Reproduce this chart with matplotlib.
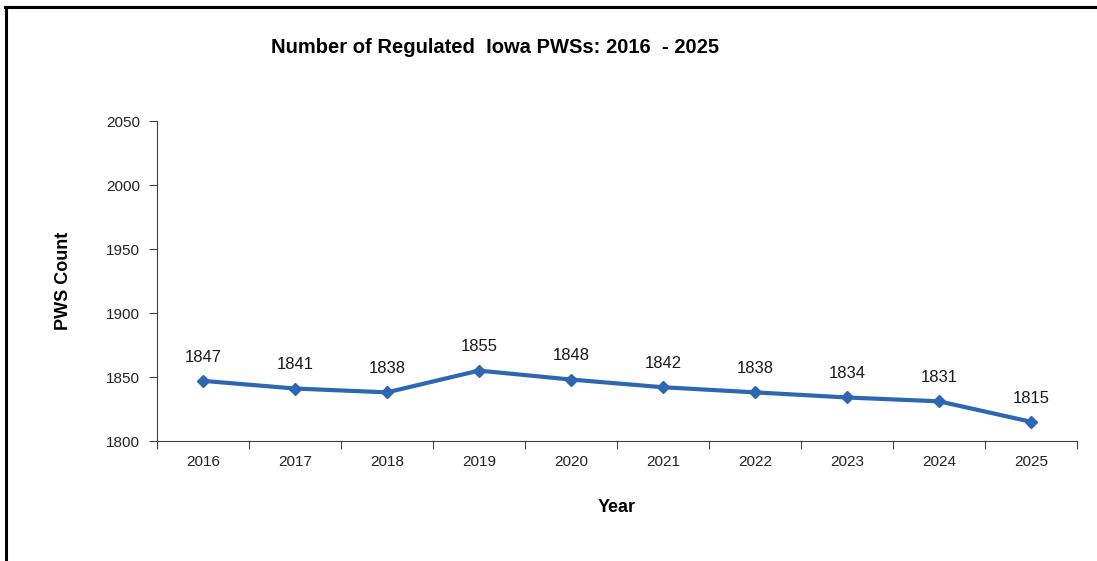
import numpy as np
import matplotlib
matplotlib.use('Agg')
import matplotlib.pyplot as plt
from matplotlib.lines import Line2D

# data
years = ['2016', '2017', '2018', '2019', '2020', '2021', '2022', '2023', '2024', '2025']
counts = [1847, 1841, 1838, 1855, 1848, 1842, 1838, 1834, 1831, 1815]
yticks = [1800, 1850, 1900, 1950, 2000, 2050]

plt.rcParams['font.family'] = ['Liberation Sans', 'DejaVu Sans']

fig = plt.figure(figsize=(10.97, 5.61), dpi=100)
ax = fig.add_axes([0.1431, 0.2139, 0.8387, 0.5704])

x = np.arange(len(years)) + 0.5
ax.plot(x, counts, color='#2E67B1', lw=3, marker='D', ms=6.5, zorder=3)
for xi, c in zip(x, counts):
    ax.annotate(str(c), (xi, c), xytext=(0, 17), textcoords='offset points',
                ha='center', va='center', fontsize=12, color='#1a1a1a')

ax.set_xlim(0, len(years))
ax.set_ylim(1800, 2050)
ax.set_yticks(yticks)
ax.set_xticks(np.arange(len(years) + 1))
ax.set_xticklabels([])
ax.set_xticks(x, minor=True)
ax.set_xticklabels(years, minor=True)
ax.tick_params(axis='x', which='minor', length=0, pad=10, labelsize=11, labelcolor='#222222')
ax.tick_params(axis='x', which='major', length=6, direction='out', color='#404040')
ax.tick_params(axis='y', length=6, direction='out', color='#404040', labelsize=11,
               labelcolor='#222222', pad=6)

for s in ['top', 'right']:
    ax.spines[s].set_visible(False)
for s in ['left', 'bottom']:
    ax.spines[s].set_color('#404040')

ax.set_ylabel('PWS Count', fontsize=13, fontweight='bold', labelpad=25)
ax.set_xlabel('Year', fontsize=13, fontweight='bold', labelpad=22)
fig.text(0.451, 0.916, 'Number of Regulated  Iowa PWSs: 2016  - 2025', ha='center', va='center',
         fontsize=14.5, fontweight='bold')

# outer frame (top and left edges)
fig.add_artist(Line2D([0.005, 1.0], [0.987, 0.987], transform=fig.transFigure, color='black', lw=2.2))
fig.add_artist(Line2D([0.0055, 0.0055], [0.0, 0.987], transform=fig.transFigure, color='black', lw=2.2))

fig.savefig('out.png', dpi=100)
